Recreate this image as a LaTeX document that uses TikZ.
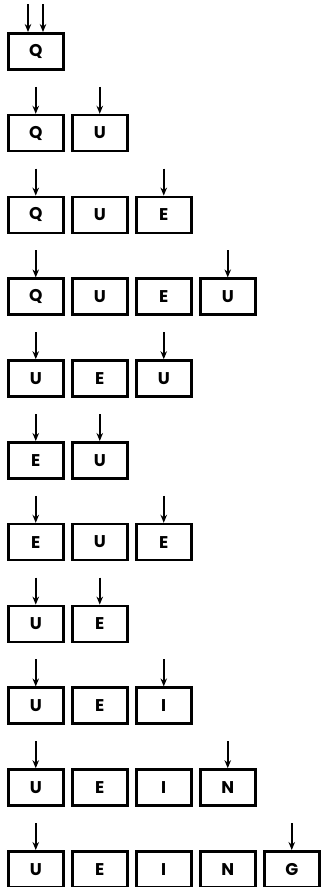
\documentclass[tikz,border=0pt]{standalone}
\usepackage{fontspec}
\setmainfont{Poppins}
\usetikzlibrary{arrows.meta,calc}
\begin{document}
\begin{tikzpicture}[x=1pt,y=-1pt,
  cell/.style={draw,line width=2.5pt,minimum width=55pt,minimum height=36pt,
    inner sep=0pt,font=\bfseries\fontsize{17}{17}\selectfont},
  pointer/.style={line width=1.8pt,-{Stealth[length=8pt,width=6.5pt]}}]
  \useasboundingbox (0,0) rectangle (321,887);
  % each row: row number / letters
  \foreach \r/\word in {1/{Q}, 2/{Q,U}, 3/{Q,U,E}, 4/{Q,U,E,U},
      5/{U,E,U}, 6/{E,U}, 7/{E,U,E}, 8/{U,E}, 9/{U,E,I},
      10/{U,E,I,N}, 11/{U,E,I,N,G}} {
    \pgfmathsetmacro{\yc}{51.25+81.8*(\r-1)}
    \foreach \c [count=\i] in \word {
      \node[cell] (b\r-\i) at ({35.75+64*(\i-1)},\yc) {\c};
    }
  }
  % pointers into the first row share one box
  \coordinate (p1a) at (28,4);
  \coordinate (p1b) at (43,4);
  \draw[pointer] (p1a) -- (p1a |- b1-1.north);
  \draw[pointer] (p1b) -- (p1b |- b1-1.north);
  % head and tail pointers for the other rows
  \foreach \r/\t in {2/2,3/3,4/4,5/3,6/2,7/3,8/2,9/3,10/4,11/5} {
    \coordinate (h\r) at ($(b\r-1.north)+(0,-27)$);
    \coordinate (t\r) at ($(b\r-\t.north)+(0,-27)$);
    \draw[pointer] (h\r) -- (b\r-1.north);
    \draw[pointer] (t\r) -- (b\r-\t.north);
  }
\end{tikzpicture}
\end{document}
